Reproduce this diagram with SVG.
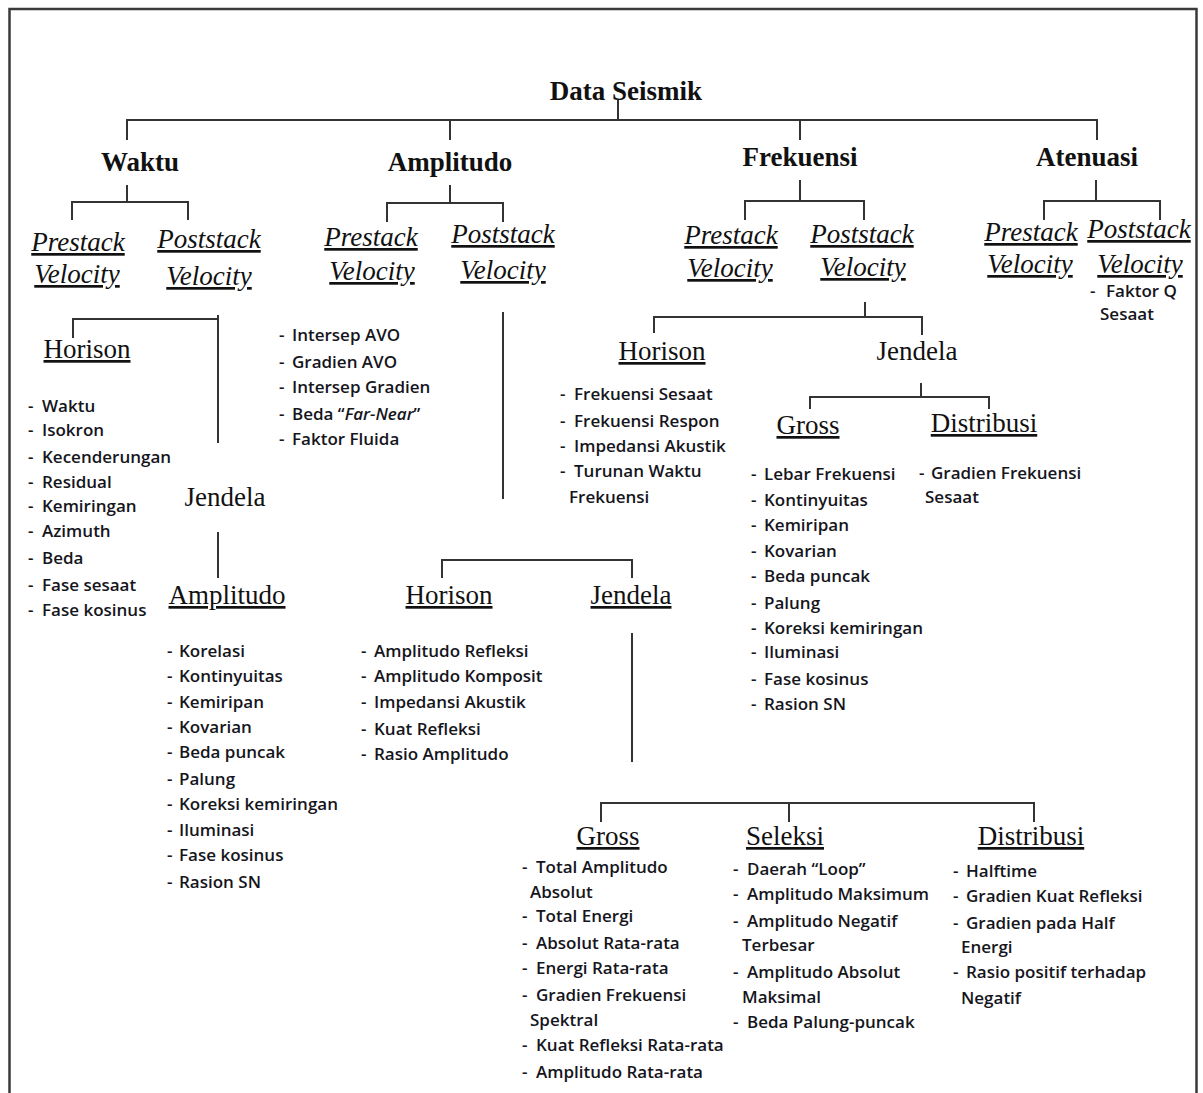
<svg xmlns="http://www.w3.org/2000/svg" width="1203" height="1093" viewBox="0 0 1203 1093">
<style>
.bg{fill:#fff}
.frame{fill:none;stroke:#3a3a3a;stroke-width:2.5}
.conn path{fill:none;stroke:#333;stroke-width:2}
.h1{font-family:"Liberation Serif",serif;font-size:27px;font-weight:bold;fill:#111;text-anchor:middle}
.it{font-family:"Liberation Serif",serif;font-size:27px;font-style:italic;fill:#111;text-anchor:middle;text-decoration:underline}
.hd{font-family:"Liberation Serif",serif;font-size:27px;fill:#111;text-anchor:middle}
.u{text-decoration:underline}
.li{font-family:"Open Sans",sans-serif;font-size:17px;font-weight:600;fill:#151520}
.em{font-style:italic}
</style>
<rect class="bg" x="0" y="0" width="1203" height="1093"/>
<path class="frame" d="M9.5 1093 V9 H1196.5 V1093"/>

<g id="connectors" class="conn">
<path d="M618 100 V120"/>
<path d="M127 140 V120 H1097 V140"/>
<path d="M450 120 V140"/>
<path d="M800 120 V140"/>
<path d="M127 185 V202"/>
<path d="M72 220 V202 H188 V220"/>
<path d="M450 185 V203"/>
<path d="M387 222 V203 H503 V222"/>
<path d="M800 180 V201"/>
<path d="M745 220 V201 H864 V220"/>
<path d="M1096 180 V201"/>
<path d="M1044 220 V201 H1160 V220"/>
<path d="M218 315 V443"/>
<path d="M73 338 V319 H218"/>
<path d="M218 532 V578"/>
<path d="M503 312 V499"/>
<path d="M442 578 V560 H632 V578"/>
<path d="M632 633 V762"/>
<path d="M601 822 V803 H1034 V822"/>
<path d="M789 803 V822"/>
<path d="M865 302 V317"/>
<path d="M654 333 V317 H922 V335"/>
<path d="M921 383 V397"/>
<path d="M810 409 V397 H989 V409"/>
</g>

<g id="data-seismik"><text class="h1" x="626" y="100">Data Seismik</text></g>

<g id="waktu"><text class="h1" x="140" y="171">Waktu</text></g>
<g id="amplitudo"><text class="h1" x="450" y="171">Amplitudo</text></g>
<g id="frekuensi"><text class="h1" x="800" y="166">Frekuensi</text></g>
<g id="atenuasi"><text class="h1" x="1087" y="166">Atenuasi</text></g>

<g id="waktu-prestack"><text class="it" x="78" y="251">Prestack</text><text class="it" x="77" y="283">Velocity</text></g>
<g id="waktu-poststack"><text class="it" x="209" y="248">Poststack</text><text class="it" x="209" y="285">Velocity</text></g>
<g id="amp-prestack"><text class="it" x="371" y="246">Prestack</text><text class="it" x="372" y="280">Velocity</text></g>
<g id="amp-poststack"><text class="it" x="503" y="243">Poststack</text><text class="it" x="503" y="279">Velocity</text></g>
<g id="frek-prestack"><text class="it" x="731" y="244">Prestack</text><text class="it" x="730" y="277">Velocity</text></g>
<g id="frek-poststack"><text class="it" x="862" y="243">Poststack</text><text class="it" x="863" y="276">Velocity</text></g>
<g id="aten-prestack"><text class="it" x="1031" y="241">Prestack</text><text class="it" x="1030" y="273">Velocity</text></g>
<g id="aten-poststack"><text class="it" x="1139" y="238">Poststack</text><text class="it" x="1140" y="273">Velocity</text>
<text class="li" y="297"><tspan x="1090">-</tspan><tspan x="1106">Faktor Q</tspan></text>
<text class="li" x="1100" y="320">Sesaat</text></g>

<g id="amp-prestack-list">
<text class="li" y="341"><tspan x="279">-</tspan><tspan x="292">Intersep AVO</tspan></text>
<text class="li" y="368"><tspan x="279">-</tspan><tspan x="292">Gradien AVO</tspan></text>
<text class="li" y="393"><tspan x="279">-</tspan><tspan x="292">Intersep Gradien</tspan></text>
<text class="li" y="420"><tspan x="279">-</tspan><tspan x="292">Beda “<tspan class="em">Far-Near</tspan>”</tspan></text>
<text class="li" y="445"><tspan x="279">-</tspan><tspan x="292">Faktor Fluida</tspan></text>
</g>

<g id="waktu-horison"><text class="hd u" x="87" y="358">Horison</text>
<text class="li" y="412"><tspan x="28">-</tspan><tspan x="42">Waktu</tspan></text>
<text class="li" y="436"><tspan x="28">-</tspan><tspan x="42">Isokron</tspan></text>
<text class="li" y="463"><tspan x="28">-</tspan><tspan x="42">Kecenderungan</tspan></text>
<text class="li" y="488"><tspan x="28">-</tspan><tspan x="42">Residual</tspan></text>
<text class="li" y="512"><tspan x="28">-</tspan><tspan x="42">Kemiringan</tspan></text>
<text class="li" y="537"><tspan x="28">-</tspan><tspan x="42">Azimuth</tspan></text>
<text class="li" y="564"><tspan x="28">-</tspan><tspan x="42">Beda</tspan></text>
<text class="li" y="591"><tspan x="28">-</tspan><tspan x="42">Fase sesaat</tspan></text>
<text class="li" y="616"><tspan x="28">-</tspan><tspan x="42">Fase kosinus</tspan></text>
</g>

<g id="waktu-jendela"><text class="hd" x="225" y="506">Jendela</text></g>

<g id="waktu-amplitudo"><text class="hd u" x="227" y="604">Amplitudo</text>
<text class="li" y="657"><tspan x="167">-</tspan><tspan x="179">Korelasi</tspan></text>
<text class="li" y="682"><tspan x="167">-</tspan><tspan x="179">Kontinyuitas</tspan></text>
<text class="li" y="708"><tspan x="167">-</tspan><tspan x="179">Kemiripan</tspan></text>
<text class="li" y="733"><tspan x="167">-</tspan><tspan x="179">Kovarian</tspan></text>
<text class="li" y="758"><tspan x="167">-</tspan><tspan x="179">Beda puncak</tspan></text>
<text class="li" y="785"><tspan x="167">-</tspan><tspan x="179">Palung</tspan></text>
<text class="li" y="810"><tspan x="167">-</tspan><tspan x="179">Koreksi kemiringan</tspan></text>
<text class="li" y="836"><tspan x="167">-</tspan><tspan x="179">Iluminasi</tspan></text>
<text class="li" y="861"><tspan x="167">-</tspan><tspan x="179">Fase kosinus</tspan></text>
<text class="li" y="888"><tspan x="167">-</tspan><tspan x="179">Rasion SN</tspan></text>
</g>

<g id="amp-horison"><text class="hd u" x="449" y="604">Horison</text>
<text class="li" y="657"><tspan x="361">-</tspan><tspan x="374">Amplitudo Refleksi</tspan></text>
<text class="li" y="682"><tspan x="361">-</tspan><tspan x="374">Amplitudo Komposit</tspan></text>
<text class="li" y="708"><tspan x="361">-</tspan><tspan x="374">Impedansi Akustik</tspan></text>
<text class="li" y="735"><tspan x="361">-</tspan><tspan x="374">Kuat Refleksi</tspan></text>
<text class="li" y="760"><tspan x="361">-</tspan><tspan x="374">Rasio Amplitudo</tspan></text>
</g>

<g id="amp-jendela"><text class="hd u" x="631" y="604">Jendela</text></g>

<g id="amp-gross"><text class="hd u" x="608" y="845">Gross</text>
<text class="li" y="873"><tspan x="522">-</tspan><tspan x="536">Total Amplitudo</tspan></text>
<text class="li" x="530" y="898">Absolut</text>
<text class="li" y="922"><tspan x="522">-</tspan><tspan x="536">Total Energi</tspan></text>
<text class="li" y="949"><tspan x="522">-</tspan><tspan x="536">Absolut Rata-rata</tspan></text>
<text class="li" y="974"><tspan x="522">-</tspan><tspan x="536">Energi Rata-rata</tspan></text>
<text class="li" y="1001"><tspan x="522">-</tspan><tspan x="536">Gradien Frekuensi</tspan></text>
<text class="li" x="530" y="1026">Spektral</text>
<text class="li" y="1051"><tspan x="522">-</tspan><tspan x="536">Kuat Refleksi Rata-rata</tspan></text>
<text class="li" y="1078"><tspan x="522">-</tspan><tspan x="536">Amplitudo Rata-rata</tspan></text>
</g>

<g id="amp-seleksi"><text class="hd u" x="785" y="845">Seleksi</text>
<text class="li" y="875"><tspan x="733">-</tspan><tspan x="747">Daerah “Loop”</tspan></text>
<text class="li" y="900"><tspan x="733">-</tspan><tspan x="747">Amplitudo Maksimum</tspan></text>
<text class="li" y="927"><tspan x="733">-</tspan><tspan x="747">Amplitudo Negatif</tspan></text>
<text class="li" x="742" y="951">Terbesar</text>
<text class="li" y="978"><tspan x="733">-</tspan><tspan x="747">Amplitudo Absolut</tspan></text>
<text class="li" x="742" y="1003">Maksimal</text>
<text class="li" y="1028"><tspan x="733">-</tspan><tspan x="747">Beda Palung-puncak</tspan></text>
</g>

<g id="amp-distribusi"><text class="hd u" x="1031" y="845">Distribusi</text>
<text class="li" y="877"><tspan x="953">-</tspan><tspan x="966">Halftime</tspan></text>
<text class="li" y="902"><tspan x="953">-</tspan><tspan x="966">Gradien Kuat Refleksi</tspan></text>
<text class="li" y="929"><tspan x="953">-</tspan><tspan x="966">Gradien pada Half</tspan></text>
<text class="li" x="961" y="953">Energi</text>
<text class="li" y="978"><tspan x="953">-</tspan><tspan x="966">Rasio positif terhadap</tspan></text>
<text class="li" x="961" y="1004">Negatif</text>
</g>

<g id="frek-horison"><text class="hd u" x="662" y="360">Horison</text>
<text class="li" y="400"><tspan x="560">-</tspan><tspan x="574">Frekuensi Sesaat</tspan></text>
<text class="li" y="427"><tspan x="560">-</tspan><tspan x="574">Frekuensi Respon</tspan></text>
<text class="li" y="452"><tspan x="560">-</tspan><tspan x="574">Impedansi Akustik</tspan></text>
<text class="li" y="477"><tspan x="560">-</tspan><tspan x="574">Turunan Waktu</tspan></text>
<text class="li" x="569" y="503">Frekuensi</text>
</g>

<g id="frek-jendela"><text class="hd" x="917" y="360">Jendela</text></g>

<g id="frek-gross"><text class="hd u" x="808" y="434">Gross</text>
<text class="li" y="480"><tspan x="751">-</tspan><tspan x="764">Lebar Frekuensi</tspan></text>
<text class="li" y="506"><tspan x="751">-</tspan><tspan x="764">Kontinyuitas</tspan></text>
<text class="li" y="531"><tspan x="751">-</tspan><tspan x="764">Kemiripan</tspan></text>
<text class="li" y="557"><tspan x="751">-</tspan><tspan x="764">Kovarian</tspan></text>
<text class="li" y="582"><tspan x="751">-</tspan><tspan x="764">Beda puncak</tspan></text>
<text class="li" y="609"><tspan x="751">-</tspan><tspan x="764">Palung</tspan></text>
<text class="li" y="634"><tspan x="751">-</tspan><tspan x="764">Koreksi kemiringan</tspan></text>
<text class="li" y="658"><tspan x="751">-</tspan><tspan x="764">Iluminasi</tspan></text>
<text class="li" y="685"><tspan x="751">-</tspan><tspan x="764">Fase kosinus</tspan></text>
<text class="li" y="710"><tspan x="751">-</tspan><tspan x="764">Rasion SN</tspan></text>
</g>

<g id="frek-distribusi"><text class="hd u" x="984" y="432">Distribusi</text>
<text class="li" y="479"><tspan x="919">-</tspan><tspan x="931">Gradien Frekuensi</tspan></text>
<text class="li" x="925" y="503">Sesaat</text>
</g>
</svg>
